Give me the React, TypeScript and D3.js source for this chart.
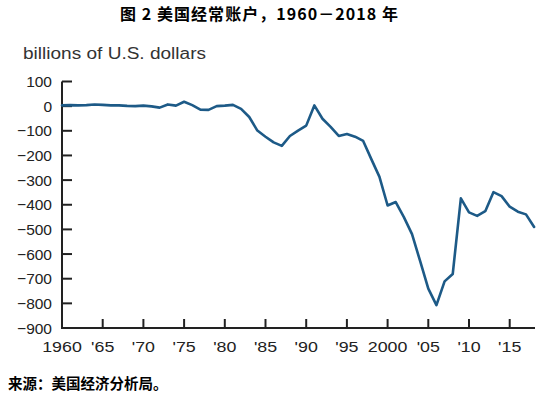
import React from 'react'
import * as d3 from 'd3'

// US current account balance, billions of dollars
const years = [
    1960, 1961, 1962, 1963, 1964, 1965, 1966, 1967, 1968, 1969,
    1970, 1971, 1972, 1973, 1974, 1975, 1976, 1977, 1978, 1979,
    1980, 1981, 1982, 1983, 1984, 1985, 1986, 1987, 1988, 1989,
    1990, 1991, 1992, 1993, 1994, 1995, 1996, 1997, 1998, 1999,
    2000, 2001, 2002, 2003, 2004, 2005, 2006, 2007, 2008, 2009,
    2010, 2011, 2012, 2013, 2014, 2015, 2016, 2017, 2018,
]
const balance = [
    3, 4, 3, 4, 7, 5, 3, 3, 1, 0,
    2, -1, -6, 7, 2, 18, 4, -14, -15, 0,
    2, 5, -11, -44, -99, -124, -147, -161, -121, -99,
    -79, 3, -51, -84, -121, -113, -124, -141, -215, -287,
    -403, -389, -450, -519, -629, -740, -807, -711, -681, -374,
    -431, -445, -426, -349, -365, -408, -428, -439, -490,
]
const yTicks = [100, 0, -100, -200, -300, -400, -500, -600, -700, -800, -900]
const xTicks = [1960, 1965, 1970, 1975, 1980, 1985, 1990, 1995, 2000, 2005, 2010, 2015]
const xTickLabels = ['1960', "'65", "'70", "'75", "'80", "'85", "'90", "'95", '2000', "'05", "'10", "'15"]

const title = '图 2 美国经常账户，1960－2018 年'
const unitLabel = 'billions of U.S. dollars'
const source = '来源：美国经济分析局。'

const App = () => {
    const width = 548
    const height = 399
    const left = 62
    const right = 535
    const top = 81.5
    const bottom = 328

    const x = d3.scaleLinear().domain([1960, 2018]).range([left, left + 58 * 8.14])
    const y = d3.scaleLinear().domain([100, -900]).range([top, bottom])

    const line = d3.line<number>()
        .x((_, i) => x(years[i]))
        .y(d => y(d))
        .curve(d3.curveLinear)

    const axisFont = '"Liberation Sans", Arial, sans-serif'
    const cjkFont = '"Noto Sans CJK SC", sans-serif'

    return (
        <svg width={width} height={height}
             style={{ position: 'absolute', left: 0, top: 0, background: '#fff' }}>
            <text x={259} y={20} textAnchor="middle" fontFamily={cjkFont}
                  fontWeight="bold" fontSize={16} fill="#000"
                  textLength={278} lengthAdjust="spacing">{title}</text>
            <text x={23} y={59} fontFamily={axisFont} fontSize={16} fill="#333"
                  textLength={183} lengthAdjust="spacingAndGlyphs">{unitLabel}</text>

            {/* axes */}
            <path d={`M${left},${top}V${bottom}H${right}`} fill="none" stroke="#222" strokeWidth={2} />
            {yTicks.map(t => (
                <g key={`y-${t}`}>
                    {t !== -900 && <line x1={left} x2={left + 10} y1={y(t)} y2={y(t)} stroke="#222" strokeWidth={2} />}
                    <text x={52} y={y(t) + 5.5} textAnchor="end" fontFamily={axisFont}
                          fontSize={15.5} fill="#222">{t < 0 ? '\u2212' + Math.abs(t) : t}</text>
                </g>
            ))}
            {xTicks.map((t, i) => (
                <g key={`x-${t}`}>
                    {i > 0 && <line x1={x(t)} x2={x(t)} y1={bottom} y2={bottom - 9} stroke="#222" strokeWidth={2} />}
                    <text transform={`translate(${x(t)},352) scale(1.15,1)`} textAnchor="middle"
                          fontFamily={axisFont} fontSize={15.5} fill="#222">{xTickLabels[i]}</text>
                </g>
            ))}

            <path d={line(balance) || ''} fill="none" stroke="#1d5a87" strokeWidth={2.6}
                  strokeLinejoin="round" strokeLinecap="round" />

            <text x={8} y={389} fontFamily={cjkFont} fontWeight="bold" fontSize={14.5} fill="#000">{source}</text>
        </svg>
    )
}

export default App
